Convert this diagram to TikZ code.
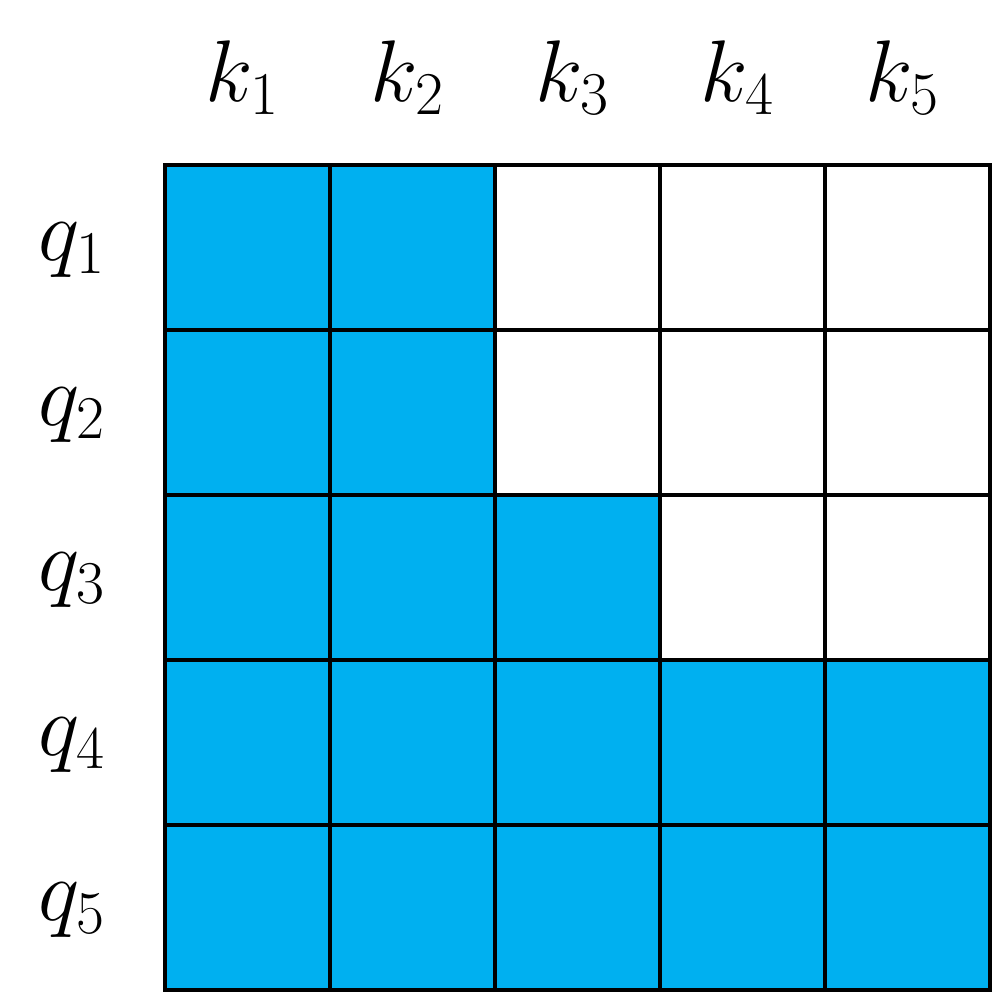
\documentclass[tikz,border=0pt]{standalone}
\definecolor{maskblue}{HTML}{00B0F0}
\begin{document}
\begin{tikzpicture}[
    x=0.01cm, y=-0.01cm,
    cell/.style={rectangle, draw, line width=1.1pt, minimum size=1.65cm, inner sep=0pt, outer sep=0pt},
    lbl/.style={font=\fontsize{26}{30}\selectfont}
]
\useasboundingbox (0,0) rectangle (995,996);
% mask cells, \n = number of visible keys in row \r
\foreach \r/\n in {1/2,2/2,3/3,4/5,5/5}{
  \foreach \c in {1,...,5}{
    \ifnum\c>\n \def\fc{white}\else\def\fc{maskblue}\fi
    \node[cell, fill=\fc] (c\r\c) at ({82.5+165*\c},{82.5+165*\r}) {};
  }
}
% key and query labels
\foreach \i in {1,...,5}{
  \node[lbl] (k\i) at ({78+165*\i},78) {$k_{\i}$};
  \node[lbl] (q\i) at (72,{250+165*(\i-1)}) {$q_{\i}$};
}
\end{tikzpicture}
\end{document}
